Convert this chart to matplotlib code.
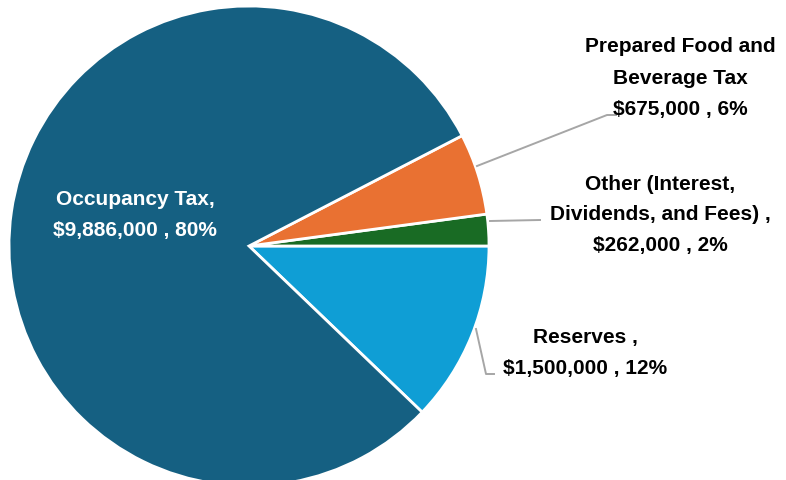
import matplotlib.pyplot as plt

# Revenue sources (values in dollars)
labels = ["Reserves", "Other (Interest, Dividends, and Fees)",
          "Prepared Food and Beverage Tax", "Occupancy Tax"]
values = [1500000, 262000, 675000, 9886000]
pcts = [12, 2, 6, 80]
colors = ["#0F9ED5", "#196B24", "#E97132", "#156082"]

label_texts = [
    "Reserves ,\n$1,500,000 , 12%",
    "Other (Interest,\nDividends, and Fees) ,\n$262,000 , 2%",
    "Prepared Food and\nBeverage Tax\n$675,000 , 6%",
    "Occupancy Tax,\n$9,886,000 , 80%",
]

plt.rcParams["font.family"] = ["Liberation Sans", "DejaVu Sans"]

W, H = 786, 481
fig = plt.figure(figsize=(W / 100, H / 100), dpi=100)
ax = fig.add_axes([0, 0, 1, 1])

total = sum(values)
start = -values[0] / total * 360
cx, cy, r = 249, H - 247, 240
ax.pie(values, colors=colors, startangle=start, counterclock=True,
       center=(cx, cy), radius=r, frame=True,
       wedgeprops=dict(edgecolor="white", linewidth=2))
ax.set_xlim(0, W)
ax.set_ylim(0, H)
ax.set_aspect("equal")
ax.axis("off")

def yy(y):
    return H - y

# leader lines (image coords)
lc = "#A6A6A6"
ax.plot([477, 607, 616], [yy(167), yy(116), yy(116)], color=lc, lw=1.4)
ax.plot([490, 540], [yy(222), yy(221)], color=lc, lw=1.4)
ax.plot([476, 486, 494], [yy(330), yy(375), yy(375)], color=lc, lw=1.4)

fs = 15
ls = 1.8
ax.text(135, yy(215), label_texts[3], ha="center", va="center", color="white",
        fontsize=fs, fontweight="bold", linespacing=ls)
ax.text(680, yy(78), label_texts[2], ha="center", va="center", color="black",
        fontsize=fs, fontweight="bold", linespacing=ls)
ax.text(660, yy(215), label_texts[1], ha="center", va="center", color="black",
        fontsize=fs, fontweight="bold", linespacing=ls)
ax.text(585, yy(353), label_texts[0], ha="center", va="center", color="black",
        fontsize=fs, fontweight="bold", linespacing=ls)

fig.savefig("out.png", dpi=100)
